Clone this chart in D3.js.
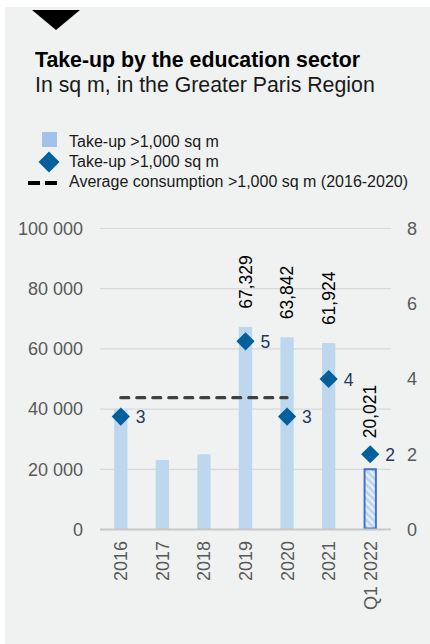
<!DOCTYPE html>
<html>
<head>
<meta charset="utf-8">
<script src="https://cdn.jsdelivr.net/npm/d3@7"></script>
<style>
  html, body { margin: 0; padding: 0; background: #ffffff; }
  svg { display: block; font-family: "Liberation Sans", Arial, sans-serif; }
</style>
</head>
<body>
<svg id="chart" width="430" height="644"></svg>
<script>
// Take-up by the education sector, Greater Paris Region
const categories = ["2016", "2017", "2018", "2019", "2020", "2021", "Q1 2022"];
const takeUp = [39800, 23100, 25000, 67329, 63842, 61924, 20021];          // sq m
const dealCount = [3, null, null, 5, 3, 4, 2];                              // number of deals
const labelledValues = [null, null, null, "67,329", "63,842", "61,924", "20,021"];
const averageValue = 43800;                                                 // average 2016-2020
const averageYears = ["2016", "2020"];
const leftTicks = [0, 20000, 40000, 60000, 80000, 100000];
const rightTicks = [0, 2, 4, 6, 8];
const partialPeriod = "Q1 2022";

const svg = d3.select("#chart");

// Panel background
svg.append("rect").attr("x", 5).attr("y", 7).attr("width", 425).attr("height", 637).attr("fill", "#eff2f1");

// Marker triangle
svg.append("path").attr("d", "M32,10 L80,10 L56,30 Z").attr("fill", "#000");

// Title + subtitle
svg.append("text").attr("x", 35).attr("y", 67).attr("font-size", 21.3).attr("font-weight", "bold")
  .attr("fill", "#000").text("Take-up by the education sector");
svg.append("text").attr("x", 35).attr("y", 92).attr("font-size", 21.3)
  .attr("fill", "#1a1a1a").text("In sq m, in the Greater Paris Region");

// Legend
const lg = svg.append("g").attr("font-size", 16).attr("fill", "#1a1a1a");
lg.append("rect").attr("x", 42).attr("y", 132).attr("width", 15).attr("height", 15).attr("fill", "#a3c2e8");
lg.append("text").attr("x", 69).attr("y", 146.5).text("Take-up >1,000 sq m");
lg.append("path").attr("d", d3.symbol(d3.symbolSquare, 220)()).attr("transform", "translate(49,162) rotate(45)").attr("fill", "#00609c");
lg.append("text").attr("x", 69).attr("y", 166.5).text("Take-up >1,000 sq m");
lg.append("line").attr("x1", 28).attr("x2", 57).attr("y1", 183).attr("y2", 183)
  .attr("stroke", "#000").attr("stroke-width", 4).attr("stroke-dasharray", "12,5");
lg.append("text").attr("x", 69).attr("y", 187).text("Average consumption >1,000 sq m (2016-2020)");

// Scales
const x = d3.scaleBand().domain(categories).range([100, 391]).paddingInner(0.68).paddingOuter(0.34);
const yL = d3.scaleLinear().domain([0, 100000]).range([529.5, 228.5]);
const yR = d3.scaleLinear().domain([0, 8]).range([529.5, 228.5]);

// Gridlines
svg.append("g").selectAll("line").data(leftTicks.filter(d => d > 0)).join("line")
  .attr("x1", 100).attr("x2", 391).attr("y1", d => yL(d)).attr("y2", d => yL(d))
  .attr("stroke", "#d9d9d9").attr("stroke-width", 1.2);

// Left axis
const axL = svg.append("g").attr("transform", "translate(100,0)")
  .call(d3.axisLeft(yL).tickValues(leftTicks).tickSize(0).tickPadding(17)
    .tickFormat(d => d3.format(",")(d).replace(/,/g, " ")));
axL.select(".domain").remove();
axL.selectAll("text").attr("font-size", 18).attr("fill", "#595959").attr("font-family", "Liberation Sans, Arial, sans-serif");

// Right axis
const axR = svg.append("g").attr("transform", "translate(391,0)")
  .call(d3.axisRight(yR).tickValues(rightTicks).tickSize(0).tickPadding(16));
axR.select(".domain").remove();
axR.selectAll("text").attr("font-size", 18).attr("fill", "#595959").attr("font-family", "Liberation Sans, Arial, sans-serif");

// Hatch pattern for the partial period
const defs = svg.append("defs");
const pat = defs.append("pattern").attr("id", "hatch").attr("patternUnits", "userSpaceOnUse")
  .attr("width", 5).attr("height", 5).attr("patternTransform", "rotate(-45)");
pat.append("rect").attr("width", 5).attr("height", 5).attr("fill", "#e8f0fa");
pat.append("rect").attr("width", 2.6).attr("height", 5).attr("fill", "#b8d3ee");

const bars = categories.map((c, i) => ({ c, v: takeUp[i], n: dealCount[i], lab: labelledValues[i] }));

// Bars
svg.append("g").selectAll("rect").data(bars).join("rect")
  .attr("x", d => x(d.c) + (d.c === partialPeriod ? 1 : 0))
  .attr("width", d => x.bandwidth() - (d.c === partialPeriod ? 2 : 0))
  .attr("y", d => yL(d.v))
  .attr("height", d => yL(0) - yL(d.v) - (d.c === partialPeriod ? 1 : 0))
  .attr("fill", d => d.c === partialPeriod ? "url(#hatch)" : "#bdd7ee")
  .attr("stroke", d => d.c === partialPeriod ? "#4472c4" : "none")
  .attr("stroke-width", 2);

// Baseline
svg.append("line").attr("x1", 100).attr("x2", 391).attr("y1", yL(0)).attr("y2", yL(0))
  .attr("stroke", "#c8c8c8").attr("stroke-width", 2);

// Average line (2016-2020)
svg.append("line")
  .attr("x1", x(averageYears[0]) + x.bandwidth() / 2)
  .attr("x2", x(averageYears[1]) + x.bandwidth() / 2)
  .attr("y1", yL(averageValue)).attr("y2", yL(averageValue))
  .attr("stroke", "#404040").attr("stroke-width", 3.2)
  .attr("stroke-dasharray", "8,8").attr("stroke-linecap", "round");

// Value labels above bars
svg.append("g").selectAll("text").data(bars.filter(d => d.lab)).join("text")
  .attr("transform", d => {
    const cx = x(d.c) + x.bandwidth() / 2 + 6;
    const off = d.c === partialPeriod ? 31 : 18;
    return `translate(${cx},${yL(d.v) - off}) rotate(-90)`;
  })
  .attr("font-size", 17.5).attr("fill", "#000").text(d => d.lab);

// Deal count diamonds
const pts = bars.filter(d => d.n != null);
svg.append("g").selectAll("path").data(pts).join("path")
  .attr("d", d3.symbol(d3.symbolSquare, 165)())
  .attr("transform", d => `translate(${x(d.c) + x.bandwidth() / 2},${yR(d.n)}) rotate(45)`)
  .attr("fill", "#00609c");
svg.append("g").selectAll("text").data(pts).join("text")
  .attr("x", d => x(d.c) + x.bandwidth() / 2 + 15)
  .attr("y", d => yR(d.n) + 6.5)
  .attr("font-size", 17.5).attr("fill", "#1f3864").text(d => d.n);

// Category labels
svg.append("g").selectAll("text").data(categories).join("text")
  .attr("transform", d => `translate(${x(d) + x.bandwidth() / 2 + 6.5},541) rotate(-90)`)
  .attr("text-anchor", "end").attr("font-size", 18).attr("fill", "#595959").text(d => d);
</script>
</body>
</html>
